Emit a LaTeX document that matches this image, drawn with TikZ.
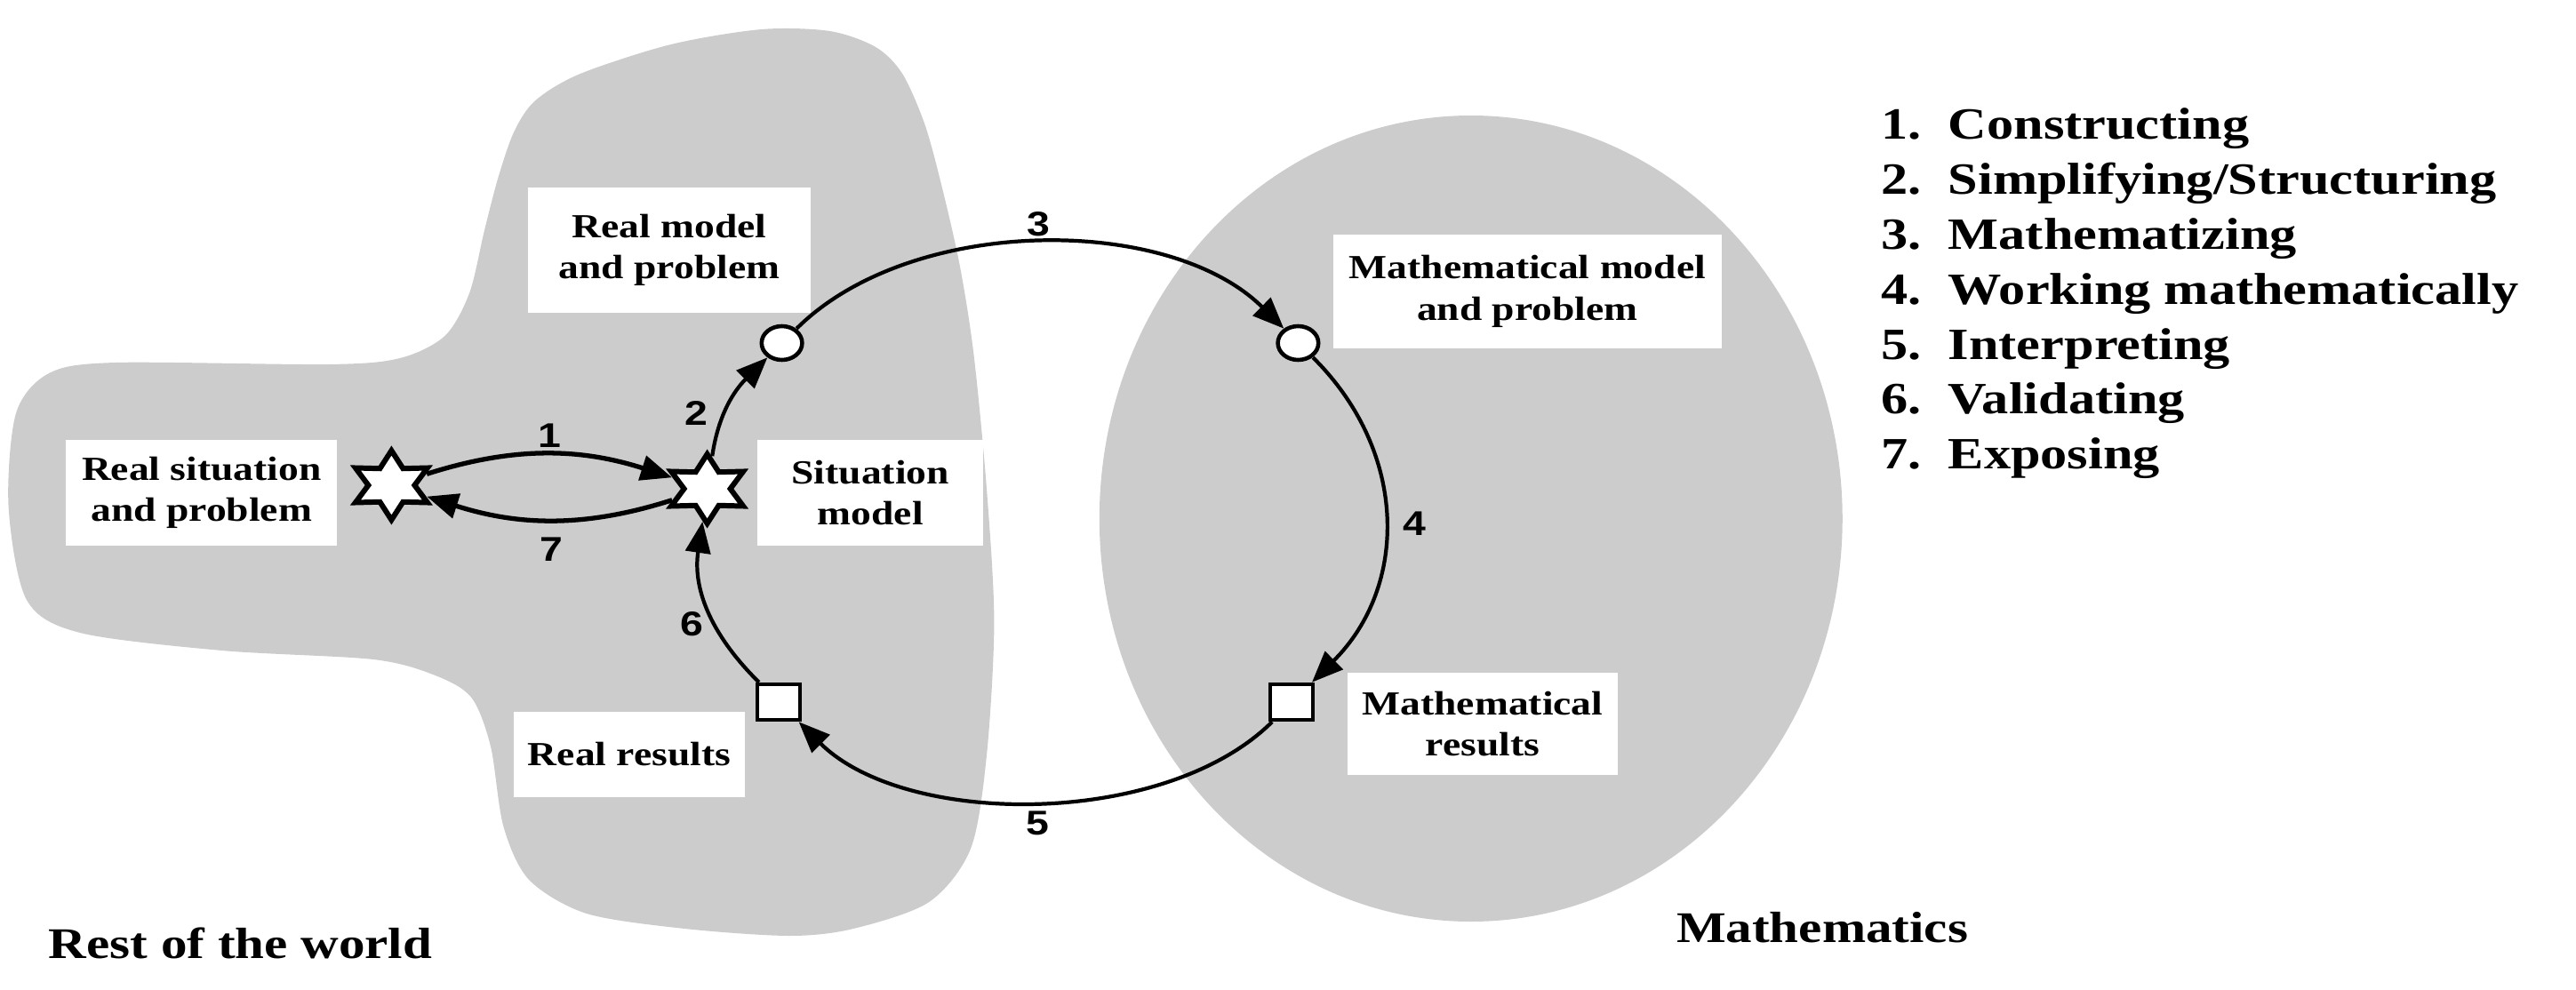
\documentclass[tikz,border=0pt]{standalone}
\usepackage{fontspec}
\setmainfont{Liberation Serif}
\newfontfamily\numfont{Liberation Sans}
\usetikzlibrary{shapes.geometric,arrows.meta}
\definecolor{worldgray}{gray}{0.8}
\tikzset{
    BX/.style ={rectangle, fill=white, inner sep=0pt, align=center, font=\bfseries\fontsize{10.8}{13.2}\selectfont},
    ST/.style ={star, star points=6, star point ratio=1.8, minimum size=0.78cm, inner sep=0pt, draw, line width=1.7pt, fill=white},
    CI/.style ={circle, minimum size=0.38cm, inner sep=0pt, draw, line width=1.3pt, fill=white},
    SQ/.style ={rectangle, minimum size=0.4cm, inner sep=0pt, draw, line width=1.3pt, fill=white},
    NU/.style ={font=\numfont\bfseries\fontsize{11}{13}\selectfont, inner sep=0pt},
    AR/.style ={line width=1.2pt, -{Triangle[length=10pt,width=8pt]}},
    TI/.style ={font=\bfseries\fontsize{14}{17.6}\selectfont, inner sep=0pt}}
\begin{document}
\begin{tikzpicture}[xscale=1.2, transform shape]
        \useasboundingbox (0,0) rectangle (24.15,11.13);
        % rest of the world and mathematics
        \fill[worldgray] plot[smooth cycle, tension=0.5] coordinates {
            (5.02,10.00) (5.44,10.30) (6.29,10.63) (7.14,10.80) (7.78,10.78) (8.21,10.60)
            (8.46,10.30) (8.67,9.73) (8.83,9.03) (9.00,8.13) (9.13,7.13) (9.25,5.63)
            (9.32,4.13) (9.25,2.63) (9.10,1.58) (8.71,0.98) (8.00,0.68) (7.40,0.60)
            (6.42,0.68) (5.50,0.85) (4.96,1.23) (4.72,1.83) (4.60,2.73) (4.42,3.28)
            (4.08,3.53) (3.50,3.71) (2.08,3.81) (0.75,4.01) (0.25,4.38) (0.08,5.43)
            (0.15,6.48) (0.46,6.93) (1.08,7.05) (3.08,7.03) (3.75,7.10) (4.17,7.35)
            (4.40,7.83) (4.54,8.53) (4.67,9.13) (4.82,9.65)};
        \fill[worldgray] (13.79,5.295) ellipse (3.483 and 4.535);
        % boxes
        \node[BX, minimum width=2.54cm, minimum height=1.19cm] (rsbox) at (1.89,5.585) {Real situation\\and problem};
        \node[BX, minimum width=2.12cm, minimum height=1.19cm] (smbox) at (8.16,5.585) {Situation\\model};
        \node[BX, minimum width=2.65cm, minimum height=1.41cm] (rmbox) at (6.275,8.315) {Real model\\and problem};
        \node[BX, minimum width=2.16cm, minimum height=0.96cm] (rrbox) at (5.90,2.64) {Real results};
        \node[BX, minimum width=3.64cm, minimum height=1.28cm] (mmbox) at (14.32,7.85) {Mathematical model\\and problem};
        \node[BX, minimum width=2.54cm, minimum height=1.15cm] (mrbox) at (13.90,2.985) {Mathematical\\results};
        % stations
        \node[ST] (rs) at (3.67,5.67) {};
        \node[ST] (sm) at (6.63,5.63) {};
        \node[CI] (rm) at (7.33,7.27) {};
        \node[CI] (mm) at (12.17,7.27) {};
        \node[SQ] (mr) at (12.11,3.23) {};
        \node[SQ] (rr) at (7.30,3.23) {};
        % cycle
        \draw[AR, line width=1.5pt] (rs) to[out=21, in=159] (sm);
        \draw[AR, line width=1.5pt] (sm) to[out=-159, in=-21] (rs);
        \draw[AR] (sm) to[out=83, in=230] (rm);
        \draw[AR] (rm) to[out=50, in=130, looseness=0.94] (mm);
        \draw[AR] (mm) to[out=-50, in=50, looseness=0.98] (mr);
        \draw[AR] (mr) to[out=-130, in=-50, looseness=0.9] (rr);
        \draw[AR] (rr) to[out=130, in=-97] (sm);
        \node[NU] (n1) at (5.15,6.23) {1};
        \node[NU] (n2) at (6.525,6.48) {2};
        \node[NU] (n3) at (9.74,8.61) {3};
        \node[NU] (n4) at (13.26,5.24) {4};
        \node[NU] (n5) at (9.725,1.87) {5};
        \node[NU] (n6) at (6.49,4.11) {6};
        \node[NU] (n7) at (5.17,4.95) {7};
        % titles and legend
        \node[TI, anchor=base west] (rest) at (0.45,0.35) {Rest of the world};
        \node[TI, anchor=base west] (maths) at (15.71,0.53) {Mathematics};
        \node[TI, anchor=north west, align=left, font=\bfseries\fontsize{14.3}{17.6}\selectfont] (legend) at (17.63,9.92) {1.~~Constructing\\2.~~Simplifying/Structuring\\3.~~Mathematizing\\4.~~Working mathematically\\5.~~Interpreting\\6.~~Validating\\7.~~Exposing};
    \end{tikzpicture}
\end{document}
